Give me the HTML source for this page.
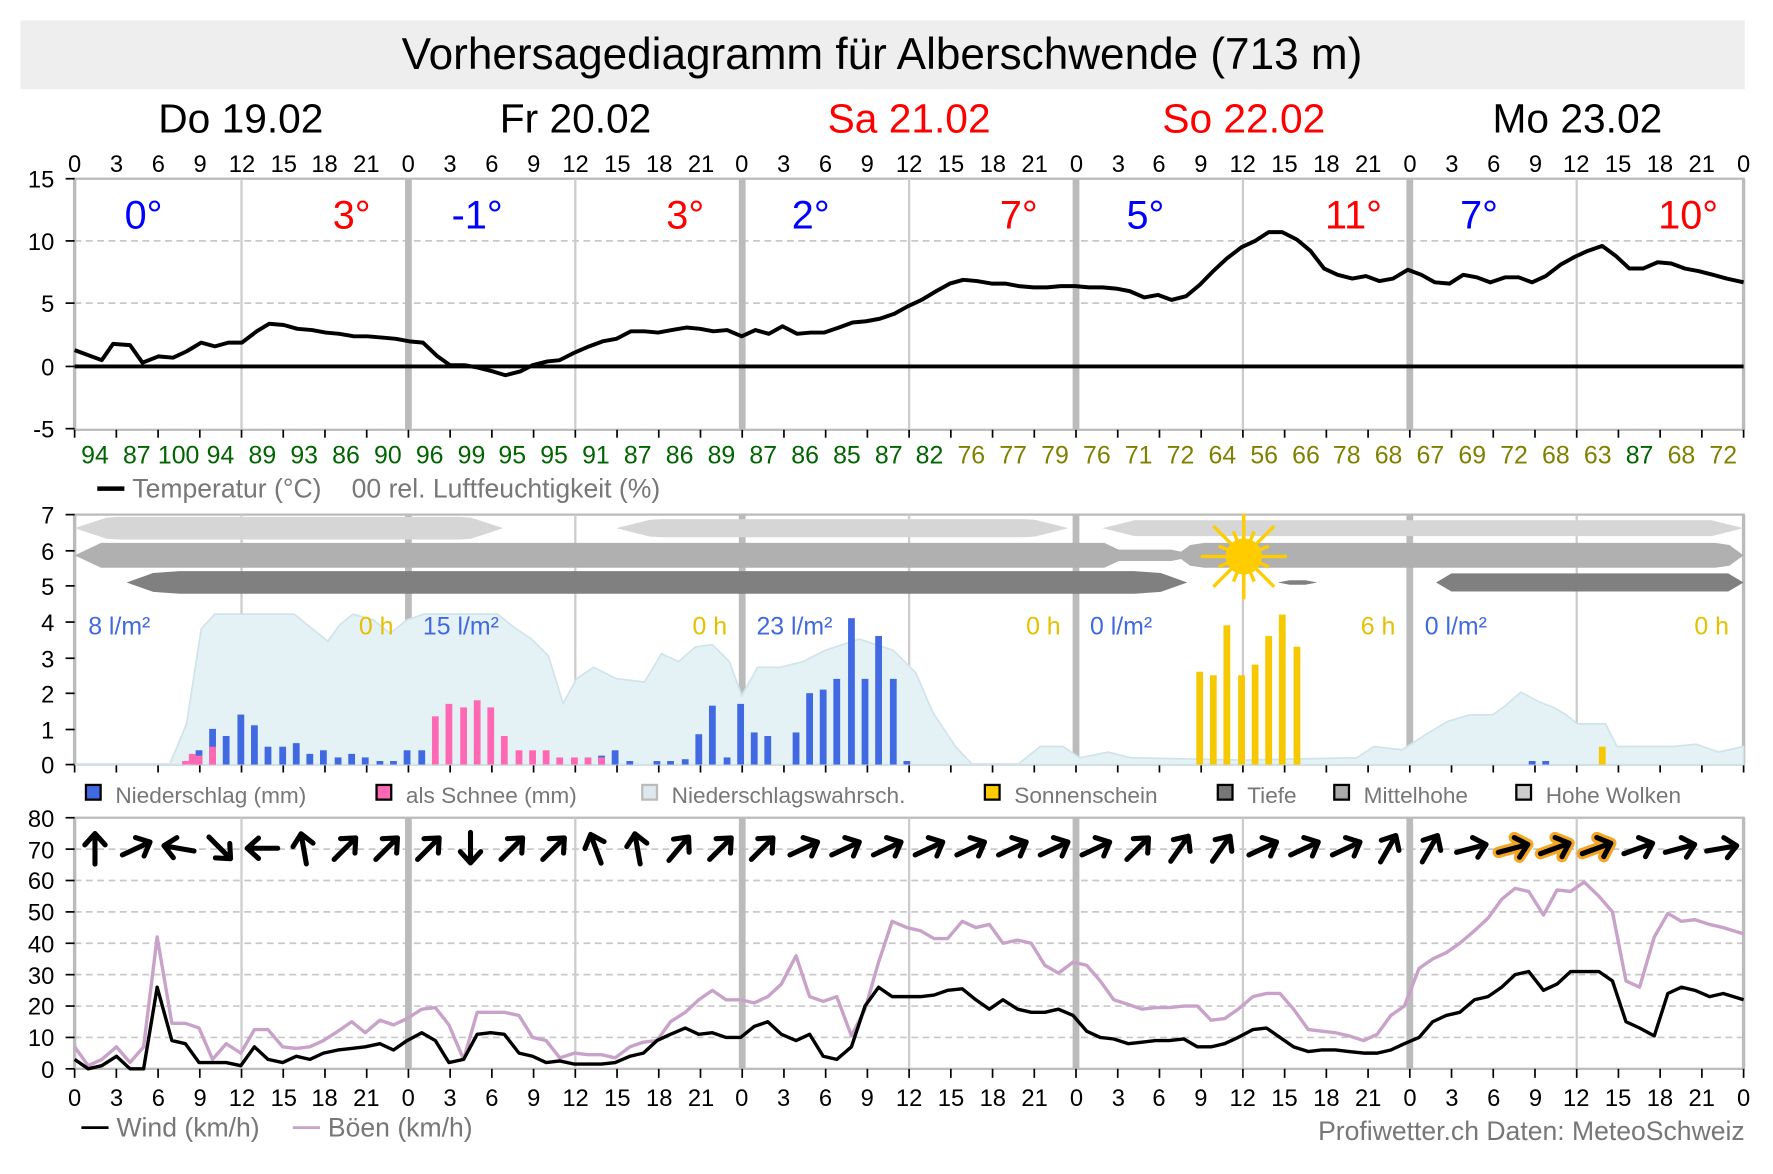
<!DOCTYPE html>
<html><head><meta charset="utf-8"><style>
html,body{margin:0;padding:0;background:#fff}
svg{display:block}
text{font-family:"Liberation Sans",Arial,sans-serif}
</style></head><body>
<svg id="s" width="1773" height="1174" viewBox="0 0 1568 1038" preserveAspectRatio="none" xmlns="http://www.w3.org/2000/svg">
<rect x="0" y="0" width="1568" height="1038" fill="#fff"/>
<rect x="18" y="18" width="1525" height="61" fill="#eeeeee"/>
<text x="780" y="61" font-size="39" text-anchor="middle">Vorhersagediagramm für Alberschwende (713 m)</text>
<g font-size="36" text-anchor="middle">
<text x="213" y="117">Do 19.02</text><text x="509" y="117">Fr 20.02</text>
<text x="804" y="117" fill="#ff0000">Sa 21.02</text><text x="1100" y="117" fill="#ff0000">So 22.02</text>
<text x="1395" y="117">Mo 23.02</text></g>
<g id="grid"></g>
<g id="dyn"></g>
<g font-size="21" text-anchor="middle" id="toph">
<text x="66" y="152">0</text><text x="103" y="152">3</text><text x="140" y="152">6</text><text x="177" y="152">9</text><text x="214" y="152">12</text><text x="251" y="152">15</text><text x="287" y="152">18</text><text x="324" y="152">21</text><text x="361" y="152">0</text><text x="398" y="152">3</text><text x="435" y="152">6</text><text x="472" y="152">9</text><text x="509" y="152">12</text><text x="546" y="152">15</text><text x="583" y="152">18</text><text x="620" y="152">21</text><text x="656" y="152">0</text><text x="693" y="152">3</text><text x="730" y="152">6</text><text x="767" y="152">9</text><text x="804" y="152">12</text><text x="841" y="152">15</text><text x="878" y="152">18</text><text x="915" y="152">21</text><text x="952" y="152">0</text><text x="989" y="152">3</text><text x="1025" y="152">6</text><text x="1062" y="152">9</text><text x="1099" y="152">12</text><text x="1136" y="152">15</text><text x="1173" y="152">18</text><text x="1210" y="152">21</text><text x="1247" y="152">0</text><text x="1284" y="152">3</text><text x="1321" y="152">6</text><text x="1358" y="152">9</text><text x="1394" y="152">12</text><text x="1431" y="152">15</text><text x="1468" y="152">18</text><text x="1505" y="152">21</text><text x="1542" y="152">0</text>
</g>
<g font-size="21" text-anchor="middle">
<text x="66" y="978">0</text><text x="103" y="978">3</text><text x="140" y="978">6</text><text x="177" y="978">9</text><text x="214" y="978">12</text><text x="251" y="978">15</text><text x="287" y="978">18</text><text x="324" y="978">21</text><text x="361" y="978">0</text><text x="398" y="978">3</text><text x="435" y="978">6</text><text x="472" y="978">9</text><text x="509" y="978">12</text><text x="546" y="978">15</text><text x="583" y="978">18</text><text x="620" y="978">21</text><text x="656" y="978">0</text><text x="693" y="978">3</text><text x="730" y="978">6</text><text x="767" y="978">9</text><text x="804" y="978">12</text><text x="841" y="978">15</text><text x="878" y="978">18</text><text x="915" y="978">21</text><text x="952" y="978">0</text><text x="989" y="978">3</text><text x="1025" y="978">6</text><text x="1062" y="978">9</text><text x="1099" y="978">12</text><text x="1136" y="978">15</text><text x="1173" y="978">18</text><text x="1210" y="978">21</text><text x="1247" y="978">0</text><text x="1284" y="978">3</text><text x="1321" y="978">6</text><text x="1358" y="978">9</text><text x="1394" y="978">12</text><text x="1431" y="978">15</text><text x="1468" y="978">18</text><text x="1505" y="978">21</text><text x="1542" y="978">0</text>
</g>
<g font-size="21" text-anchor="end">
<text x="48" y="166">15</text><text x="48" y="221">10</text><text x="48" y="276">5</text><text x="48" y="332">0</text><text x="48" y="387">-5</text>
<text x="48" y="463">7</text><text x="48" y="495">6</text><text x="48" y="526">5</text><text x="48" y="558">4</text><text x="48" y="590">3</text><text x="48" y="621">2</text><text x="48" y="653">1</text><text x="48" y="684">0</text>
<text x="48" y="731">80</text><text x="48" y="759">70</text><text x="48" y="786">60</text><text x="48" y="814">50</text><text x="48" y="842">40</text><text x="48" y="870">30</text><text x="48" y="897">20</text><text x="48" y="925">10</text><text x="48" y="953">0</text>
</g>
<g font-size="35" text-anchor="middle">
<text x="127" y="202" fill="#0000ff">0°</text><text x="311" y="202" fill="#ff0000">3°</text>
<text x="422" y="202" fill="#0000ff">-1°</text><text x="606" y="202" fill="#ff0000">3°</text>
<text x="717" y="202" fill="#0000ff">2°</text><text x="901" y="202" fill="#ff0000">7°</text>
<text x="1013" y="202" fill="#0000ff">5°</text><text x="1197" y="202" fill="#ff0000">11°</text>
<text x="1308" y="202" fill="#0000ff">7°</text><text x="1493" y="202" fill="#ff0000">10°</text>
</g>
<g font-size="22" text-anchor="middle">
<text x="84" y="410" fill="#006400">94</text><text x="121" y="410" fill="#006400">87</text><text x="158" y="410" fill="#006400">100</text><text x="195" y="410" fill="#006400">94</text><text x="232" y="410" fill="#006400">89</text><text x="269" y="410" fill="#006400">93</text><text x="306" y="410" fill="#006400">86</text><text x="343" y="410" fill="#006400">90</text><text x="380" y="410" fill="#006400">96</text><text x="417" y="410" fill="#006400">99</text><text x="453" y="410" fill="#006400">95</text><text x="490" y="410" fill="#006400">95</text><text x="527" y="410" fill="#006400">91</text><text x="564" y="410" fill="#006400">87</text><text x="601" y="410" fill="#006400">86</text><text x="638" y="410" fill="#006400">89</text><text x="675" y="410" fill="#006400">87</text><text x="712" y="410" fill="#006400">86</text><text x="749" y="410" fill="#006400">85</text><text x="786" y="410" fill="#006400">87</text><text x="822" y="410" fill="#006400">82</text><text x="859" y="410" fill="#808000">76</text><text x="896" y="410" fill="#808000">77</text><text x="933" y="410" fill="#808000">79</text><text x="970" y="410" fill="#808000">76</text><text x="1007" y="410" fill="#808000">71</text><text x="1044" y="410" fill="#808000">72</text><text x="1081" y="410" fill="#808000">64</text><text x="1118" y="410" fill="#808000">56</text><text x="1155" y="410" fill="#808000">66</text><text x="1191" y="410" fill="#808000">78</text><text x="1228" y="410" fill="#808000">68</text><text x="1265" y="410" fill="#808000">67</text><text x="1302" y="410" fill="#808000">69</text><text x="1339" y="410" fill="#808000">72</text><text x="1376" y="410" fill="#808000">68</text><text x="1413" y="410" fill="#808000">63</text><text x="1450" y="410" fill="#006400">87</text><text x="1487" y="410" fill="#808000">68</text><text x="1524" y="410" fill="#808000">72</text>
</g>
<g font-size="23.5" fill="#777">
<line x1="86" y1="432" x2="110" y2="432" stroke="#000" stroke-width="4"/>
<text x="117" y="440">Temperatur (°C)</text>
<text x="311" y="440">00 rel. Luftfeuchtigkeit (%)</text>
</g>
<g font-size="22">
<text x="78" y="561" fill="#4169e1">8 l/m²</text><text x="348" y="561" fill="#e6c000" text-anchor="end">0 h</text>
<text x="374" y="561" fill="#4169e1">15 l/m²</text><text x="643" y="561" fill="#e6c000" text-anchor="end">0 h</text>
<text x="669" y="561" fill="#4169e1">23 l/m²</text><text x="938" y="561" fill="#e6c000" text-anchor="end">0 h</text>
<text x="964" y="561" fill="#4169e1">0 l/m²</text><text x="1234" y="561" fill="#e6c000" text-anchor="end">6 h</text>
<text x="1260" y="561" fill="#4169e1">0 l/m²</text><text x="1529" y="561" fill="#e6c000" text-anchor="end">0 h</text>
</g>
<g font-size="20" fill="#777">
<rect x="76" y="694" width="13" height="13" fill="#4169e1" stroke="#000" stroke-width="2"/><text x="102" y="710">Niederschlag (mm)</text>
<rect x="333" y="694" width="13" height="13" fill="#ff69b4" stroke="#000" stroke-width="2"/><text x="359" y="710">als Schnee (mm)</text>
<rect x="568" y="694" width="13" height="13" fill="#dde9ee" stroke="#bbb" stroke-width="2"/><text x="594" y="710">Niederschlagswahrsch.</text>
<rect x="871" y="694" width="13" height="13" fill="#ffcc00" stroke="#000" stroke-width="2"/><text x="897" y="710">Sonnenschein</text>
<rect x="1077" y="694" width="13" height="13" fill="#777" stroke="#000" stroke-width="2"/><text x="1103" y="710">Tiefe</text>
<rect x="1180" y="694" width="13" height="13" fill="#aaa" stroke="#000" stroke-width="2"/><text x="1206" y="710">Mittelhohe</text>
<rect x="1341" y="694" width="13" height="13" fill="#ccc" stroke="#000" stroke-width="2"/><text x="1367" y="710">Hohe Wolken</text>
</g>
<g font-size="23.5" fill="#777">
<line x1="72" y1="997" x2="96" y2="997" stroke="#000" stroke-width="2.5"/><text x="103" y="1005">Wind (km/h)</text>
<line x1="259" y1="997" x2="283" y2="997" stroke="#c8a2c8" stroke-width="2.5"/><text x="290" y="1005">Böen (km/h)</text>
<text x="1543" y="1008" text-anchor="end">Profiwetter.ch Daten: MeteoSchweiz</text>
</g>
</svg>
<script>
const NS="http://www.w3.org/2000/svg";
const G=document.getElementById('grid'),D=document.getElementById('dyn');
function el(p,t,a){const e=document.createElementNS(NS,t);for(const k in a)e.setAttribute(k,a[k]);p.appendChild(e);return e;}
const X0=66,X1=1542;
[[158,380],[455,676],[723,945]].forEach(([a,b])=>{el(G,'rect',{x:X0,y:a,width:X1-X0,height:b-a,fill:'none',stroke:'#bbb','stroke-width':2});});
[213,268].forEach(y=>el(G,'line',{x1:X0,y1:y,x2:X1,y2:y,stroke:'#c8c8c8','stroke-width':1.5,'stroke-dasharray':'6,4'}));
for(let v=10;v<80;v+=10){const y=945-v*2.775;el(G,'line',{x1:X0,y1:y,x2:X1,y2:y,stroke:'#c8c8c8','stroke-width':1.5,'stroke-dasharray':'6,4'});}
for(let d=0;d<=5;d++){const x=X0+295.2*d;[[158,380],[455,676],[723,945]].forEach(([a,b])=>el(G,'line',{x1:x,y1:a,x2:x,y2:b,stroke:'#bbb','stroke-width':d==0||d==5?3:6}));
 if(d<5){const xn=x+147.6;[[158,380],[455,676],[723,945]].forEach(([a,b])=>el(G,'line',{x1:xn,y1:a,x2:xn,y2:b,stroke:'#ccc','stroke-width':2}));}}
for(let i=0;i<=40;i++){const x=X0+36.9*i;el(G,'line',{x1:x,y1:380,x2:x,y2:387,stroke:'#000','stroke-width':1.5});el(G,'line',{x1:x,y1:676,x2:x,y2:683,stroke:'#000','stroke-width':1.5});el(G,'line',{x1:x,y1:945,x2:x,y2:953,stroke:'#000','stroke-width':1.5});}
[158,213,268,324,379,455,487,518,550,582,613,645,676].forEach(y=>el(G,'line',{x1:58,y1:y,x2:66,y2:y,stroke:'#000','stroke-width':1.5}));
for(let v=0;v<=80;v+=10){const y=945-v*2.775;el(G,'line',{x1:58,y1:y,x2:66,y2:y,stroke:'#000','stroke-width':1.5});}
const pa=[[66,676],[150,676],[165,640],[178,556],[190,543],[260,543],[275,555],[290,567],[300,553],[312,543],[330,548],[345,560],[360,548],[375,543],[440,543],[455,555],[470,565],[485,580],[498,622],[510,600],[525,590],[545,600],[570,603],[585,578],[600,585],[615,572],[630,570],[645,585],[656,615],[670,590],[690,590],[710,585],[730,575],[760,565],[790,575],[810,595],[825,630],[845,660],[860,676],[900,676],[920,660],[940,660],[955,670],[980,665],[1000,670],[1100,672],[1200,670],[1215,660],[1240,663],[1260,650],[1280,638],[1300,632],[1320,632],[1330,625],[1345,612],[1360,620],[1375,626],[1385,632],[1395,640],[1420,640],[1430,660],[1480,660],[1500,658],[1520,665],[1542,660],[1542,676]];
el(D,'polygon',{points:pa.map(p=>p.join(',')).join(' '),fill:'#e4f2f6',stroke:'#cfe4ea','stroke-width':1.5});
function band(x1,x2,yc,h,fill,taper){let pts=[];const n=40;for(let i=0;i<=n;i++){const x=x1+(x2-x1)*i/n;let t=Math.min(1,Math.min(i,n-i)/(n*taper));pts.push([x,yc-h/2*t]);}for(let i=n;i>=0;i--){const x=x1+(x2-x1)*i/n;let t=Math.min(1,Math.min(i,n-i)/(n*taper));pts.push([x,yc+h/2*t]);}el(D,'polygon',{points:pts.map(p=>p.join(',')).join(' '),fill:fill});}
band(66,445,467,20,'#d6d6d6',0.08);band(545,945,467,16,'#d6d6d6',0.08);band(975,1542,467,14,'#d6d6d6',0.05);
band(66,1000,491,22,'#b0b0b0',0.02);band(940,1060,491,10,'#b0b0b0',0.2);band(1040,1542,491,22,'#b0b0b0',0.03);
band(112,1050,515,20,'#808080',0.03);band(1130,1165,515,4,'#808080',0.3);band(1270,1542,515,16,'#808080',0.05);
const sg=el(D,'g',{});for(let i=0;i<16;i++){const a=i*Math.PI/8;const r=i%2?24:38;el(sg,'line',{x1:1100,y1:492,x2:1100+r*Math.cos(a),y2:492+r*Math.sin(a),stroke:'#ffcc00','stroke-width':3});}
el(sg,'circle',{cx:1100,cy:492,r:16,fill:'#ffcc00'});
const U=31.57,B=676,W=6;
function bar(x,h,c){el(D,'rect',{x:x-W/2,y:B-h*U,width:W,height:h*U,fill:c});}
[[176,0.4],[188,1.0],[200,0.8],[213,1.4],[225,1.1],[237,0.5],[250,0.5],[262,0.6],[274,0.3],[286,0.4],[299,0.2],[311,0.3],[323,0.2],[336,0.1],[348,0.1],[360,0.4],[373,0.4],[532,0.25],[544,0.4],[557,0.1],[581,0.1],[593,0.1],[606,0.15],[618,0.85],[630,1.65],[643,0.2],[655,1.7],[667,0.9],[679,0.8],[704,0.9],[716,2.0],[728,2.1],[740,2.4],[753,4.1],[765,2.4],[777,3.6],[790,2.4],[802,0.1],[1355,0.1],[1367,0.1]].forEach(b=>bar(b[0],b[1],'#4169e1'));
[[164,0.1],[170,0.3],[176,0.25],[188,0.5],[385,1.35],[397,1.7],[410,1.6],[422,1.8],[434,1.6],[446,0.8],[459,0.4],[471,0.4],[483,0.4],[495,0.2],[508,0.2],[520,0.2],[532,0.2]].forEach(b=>bar(b[0],b[1],'#ff69b4'));
[[1061,2.6],[1073,2.5],[1085,3.9],[1098,2.5],[1110,2.8],[1122,3.6],[1134,4.2],[1147,3.3],[1417,0.5]].forEach(b=>bar(b[0],b[1],'#f5c800'));
el(D,'line',{x1:X0,y1:324,x2:X1,y2:324,stroke:'#000','stroke-width':3.5});
const T=[[66,1.3],[90,0.5],[100,1.8],[115,1.7],[126,0.3],[140,0.8],[153,0.7],[165,1.2],[178,1.9],[190,1.6],[202,1.9],[214,1.9],[227,2.8],[238,3.4],[251,3.3],[263,3.0],[276,2.9],[288,2.7],[300,2.6],[313,2.4],[325,2.4],[338,2.3],[350,2.2],[362,2.0],[374,1.9],[387,0.8],[398,0.1],[411,0.1],[423,-0.1],[436,-0.4],[447,-0.7],[460,-0.4],[471,0.1],[484,0.4],[495,0.5],[508,1.1],[521,1.6],[533,2.0],[545,2.2],[558,2.8],[570,2.8],[582,2.7],[594,2.9],[607,3.1],[619,3.0],[631,2.8],[643,2.9],[656,2.4],[668,2.9],[680,2.6],[692,3.2],[705,2.6],[717,2.7],[729,2.7],[742,3.1],[754,3.5],[766,3.6],[778,3.8],[791,4.2],[803,4.8],[815,5.3],[828,6.0],[840,6.6],[852,6.9],[864,6.8],[877,6.6],[889,6.6],[901,6.4],[914,6.3],[926,6.3],[938,6.4],[951,6.4],[963,6.3],[975,6.3],[987,6.2],[999,6.0],[1012,5.5],[1024,5.7],[1036,5.3],[1049,5.6],[1061,6.5],[1073,7.6],[1085,8.6],[1098,9.5],[1110,10.0],[1122,10.7],[1134,10.7],[1147,10.1],[1159,9.2],[1171,7.8],[1183,7.3],[1196,7.0],[1208,7.2],[1220,6.8],[1232,7.0],[1245,7.7],[1257,7.3],[1269,6.7],[1282,6.6],[1294,7.3],[1306,7.1],[1318,6.7],[1331,7.1],[1343,7.1],[1355,6.7],[1367,7.2],[1380,8.1],[1392,8.7],[1404,9.2],[1417,9.6],[1429,8.8],[1441,7.8],[1453,7.8],[1466,8.3],[1478,8.2],[1490,7.8],[1502,7.6],[1515,7.3],[1527,7.0],[1542,6.7]];
el(D,'polyline',{points:T.map(p=>p[0]+','+(324-p[1]*11.1)).join(' '),fill:'none',stroke:'#000','stroke-width':3.5,'stroke-linejoin':'round'});
const xs=[66,78,90,103,115,127,139,152,164,176,188,200,213,225,237,250,262,274,286,299,311,323,336,348,360,373,385,397,410,422,434,446,459,471,483,495,508,520,532,544,557,569,581,593,606,618,630,642,655,667,679,691,704,716,728,740,753,765,777,789,802,814,826,838,851,863,875,887,900,912,924,936,949,961,973,985,998,1010,1022,1034,1047,1059,1071,1083,1095,1108,1120,1132,1144,1157,1169,1181,1193,1206,1218,1230,1242,1255,1267,1279,1291,1304,1316,1328,1340,1352,1365,1377,1389,1401,1414,1426,1438,1450,1463,1475,1487,1499,1512,1524,1542];
const wv=[3,0,1,4,0,0,26,9,8,2,2,2,1,7,3,2,4,3,5,6,6.5,7,8,6,9,11.5,9,2,3,11,11.5,11,5,4,2,2.5,1.5,1.5,1.5,2,4,5,9,11,13,11,11.5,10,10,13.5,15,11,9,11,4,3,7,20,26,23,23,23,23.5,25,25.5,22,19,22,19,18,18,19,17,12,10,9.5,8,8.5,9,9,9.5,7,7,8,10,12.5,13,10,7,5.5,6,6,5.5,5,5,6,8,10,15,17,18,22,23,26,30,31,25,27,31,31,31,28,15,13,10.5,24,26,25,23,24,22];
const gv=[7,1,3,7,2,7,42,14.5,14.5,13,3,8,5,12.5,12.5,7,6.5,7,9,12,15,11.5,15.5,14,16,19,19.5,14,3,18,18,18,17,10,9,3.5,5,4.5,4.5,3.5,7,8.5,9,15,18,22,25,22,22,21,23,27,36,23,21.5,23,10.5,19,34,47,45,44,41.5,41.5,47,45,46,40,41,40,33,30.5,34,33,28,22,20.5,19,19.5,19.5,20,20,15.5,16,19,23,24,24,19,12.5,12,11.5,10.5,9,11,17,20,32,35,37,40,44,48,54,57.5,56.5,49,57,56.5,59.5,55,50,28,26,42,49.5,47,47.5,46,45,43];
el(D,'polyline',{points:xs.map((x,i)=>x+','+(945-gv[i]*2.775)).join(' '),fill:'none',stroke:'#c8a2c8','stroke-width':3,'stroke-linejoin':'round'});
el(D,'polyline',{points:xs.map((x,i)=>x+','+(945-wv[i]*2.775)).join(' '),fill:'none',stroke:'#000','stroke-width':3,'stroke-linejoin':'round'});
const ang=[90,25,170,-45,180,100,45,45,45,-90,45,45,110,100,50,45,45,25,25,25,25,25,25,25,25,45,55,55,25,25,25,60,60,15,15,20,20,20,15,10];
ang.forEach((a,i)=>{const x=84+36.9*i,y=750;const g=el(D,'g',{transform:`translate(${x},${y}) rotate(${-a})`});
 const d='M-14,0 L13,0 M3,-9 L13,0 L3,9';
 if(i>=34&&i<=36)el(g,'path',{d:d,stroke:'#f5a623','stroke-width':10,fill:'none','stroke-linecap':'round','stroke-linejoin':'round'});
 el(g,'path',{d:d,stroke:'#000','stroke-width':4.5,fill:'none','stroke-linecap':'round','stroke-linejoin':'round'});});
</script>
</body></html>
